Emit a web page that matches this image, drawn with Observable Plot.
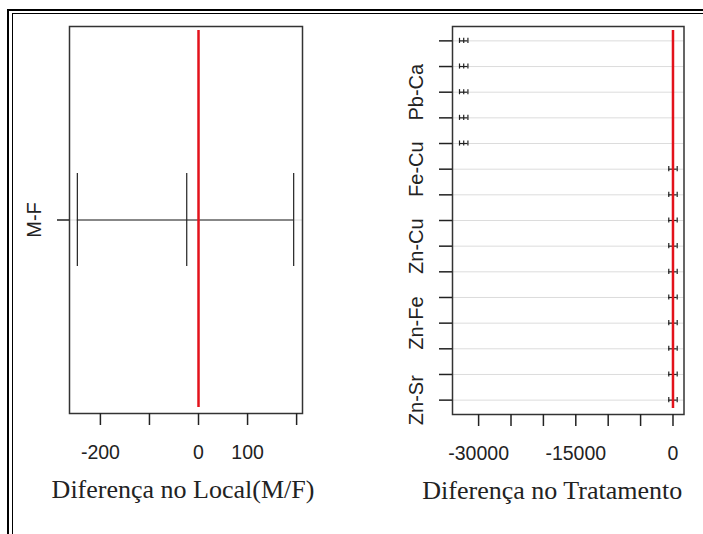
<!DOCTYPE html>
<html><head><meta charset="utf-8">
<script src="https://cdn.jsdelivr.net/npm/d3@7"></script>
<script src="https://cdn.jsdelivr.net/npm/@observablehq/plot@0.6"></script>
<style>
html,body{margin:0;padding:0;background:#fff;overflow:hidden;width:703px;height:534px;}
#wrap{position:relative;width:703px;height:534px;overflow:hidden;background:#fff;}
.b1{position:absolute;left:7px;top:9px;width:800px;height:700px;border-left:2px solid #000;border-top:2px solid #000;}
.b2{position:absolute;left:12px;top:13px;width:800px;height:700px;border-left:1.5px solid #000;border-top:1.5px solid #000;}
#left,#right{position:absolute;top:0;}
#left{left:0}
#right{left:350px}
</style></head><body>
<div id="wrap"><div class="b1"></div><div class="b2"></div><div id="left"></div><div id="right"></div></div>
<script>
// ---- Left panel: Local (M/F) ----
const localComparisons = ["M-F"];
const localDiff = [-24];
const localLwr = [-247];
const localUpr = [194];
const localTicks = [-200, -100, 0, 100, 200];
const localTickLabels = [-200, 0, 100];
const localXLabel = "Diferença no Local(M/F)";

// ---- Right panel: Tratamento ----
const treatComparisons = ["Cu-Ca","Fe-Ca","Pb-Ca","Sr-Ca","Zn-Ca","Fe-Cu","Pb-Cu","Sr-Cu","Zn-Cu","Pb-Fe","Sr-Fe","Zn-Fe","Sr-Pb","Zn-Pb","Zn-Sr"];
const treatDiff = [-32300,-32300,-32300,-32300,-32300,0,0,0,0,0,0,0,0,0,0];
const treatLwr  = [-32950,-32950,-32950,-32950,-32950,-650,-650,-650,-650,-650,-650,-650,-650,-650,-650];
const treatUpr  = [-31650,-31650,-31650,-31650,-31650,650,650,650,650,650,650,650,650,650,650];
const treatTicks = [-30000,-25000,-20000,-15000,-10000,-5000,0];
const treatTickLabels = [-30000,-15000,0];
const treatShownLabels = ["Pb-Ca","Fe-Cu","Zn-Cu","Zn-Fe","Zn-Sr"];
const treatXLabel = "Diferença no Tratamento";

const sans = "'Liberation Sans', Arial, Helvetica, sans-serif";
const serif = "'Liberation Serif', 'Times New Roman', serif";
const red = "#e3121b";
const ink = "#222";

function rowsOf(names, diff, lwr, upr) {
  const n = names.length;
  return names.map((name, i) => ({name, y: n - i, diff: diff[i], lwr: lwr[i], upr: upr[i]}));
}

function panel({rows, xDomain, yDomain, width, marginLeft, marginRight, marginBottom, ticks, tickLabels, shown, xLabel, labelDx, yTickSize, yTickPadding}) {
  const byY = new Map(rows.map(d => [d.y, d.name]));
  return Plot.plot({
    width, height: 534,
    marginLeft, marginRight, marginTop: 26, marginBottom,
    style: {fontFamily: sans, color: ink, background: "transparent", overflow: "visible"},
    x: {domain: xDomain, label: null},
    y: {domain: yDomain, label: null},
    marks: [
      Plot.ruleY(rows, {y: "y", stroke: "#dcdcdc", strokeWidth: 1}),
      Plot.ruleY(rows, {y: "y", x1: "lwr", x2: "upr", stroke: ink, strokeWidth: 1.2}),
      Plot.ruleX(rows, {x: "lwr", y1: d => d.y - 0.1, y2: d => d.y + 0.1, stroke: ink, strokeWidth: 1.2}),
      Plot.ruleX(rows, {x: "diff", y1: d => d.y - 0.1, y2: d => d.y + 0.1, stroke: ink, strokeWidth: 1.2}),
      Plot.ruleX(rows, {x: "upr", y1: d => d.y - 0.1, y2: d => d.y + 0.1, stroke: ink, strokeWidth: 1.2}),
      Plot.ruleX([0], {stroke: red, strokeWidth: 2.5, insetTop: 4, insetBottom: 6}),
      Plot.frame({stroke: "#333", strokeWidth: 1.5}),
      Plot.axisX({ticks, tickSize: 12, tickPadding: 20, strokeWidth: 1.5, label: null,
        tickFormat: d => tickLabels.includes(d) ? String(d) : "", fontSize: 19.5}),
      Plot.axisY({ticks: rows.map(d => d.y), tickSize: yTickSize, tickPadding: yTickPadding, tickRotate: -90, strokeWidth: 1.5, label: null,
        tickFormat: d => shown.includes(byY.get(d)) ? byY.get(d) : "", fontSize: 20}),
      Plot.text([xLabel], {frameAnchor: "bottom", dy: 84, dx: labelDx, lineAnchor: "bottom",
        fontFamily: serif, fontSize: 26, fill: ink})
    ]
  });
}

const localRows = rowsOf(localComparisons, localDiff, localLwr, localUpr);
const treatRows = rowsOf(treatComparisons, treatDiff, treatLwr, treatUpr);
const nL = localRows.length, nT = treatRows.length;

document.getElementById("left").appendChild(panel({
  rows: localRows, xDomain: [-263, 212], yDomain: [0.584, 1.416],
  width: 350, marginLeft: 69, marginRight: 48, marginBottom: 121,
  ticks: localTicks, tickLabels: localTickLabels, shown: localComparisons,
  xLabel: localXLabel, labelDx: -3, yTickSize: 12, yTickPadding: 17
}));

document.getElementById("right").appendChild(panel({
  rows: treatRows, xDomain: [-34030, 1700], yDomain: [1 - 0.04 * (nT - 1), nT + 0.04 * (nT - 1)],
  width: 353, marginLeft: 102, marginRight: 19.5, marginBottom: 120,
  ticks: treatTicks, tickLabels: treatTickLabels, shown: treatShownLabels,
  xLabel: treatXLabel, labelDx: -16, yTickSize: 13, yTickPadding: 17
}));
</script>
</body></html>
